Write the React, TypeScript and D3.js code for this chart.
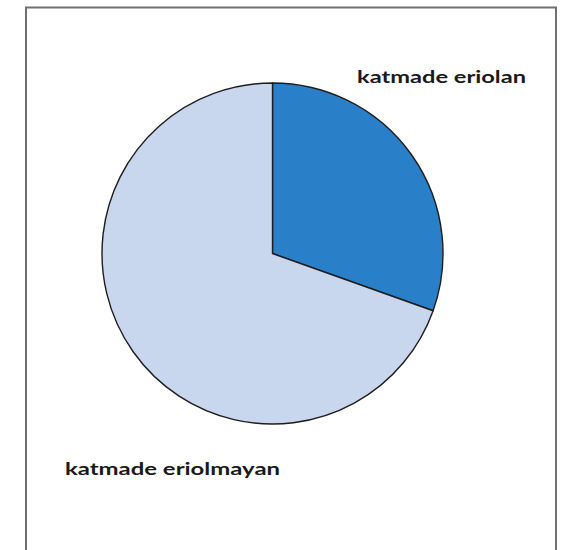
import React from "react";
import * as d3 from "d3";

const categories = ["katmade eriolan", "katmade eriolmayan"];
const values = [30.45, 69.55];
const colors = ["#2a7fc9", "#c8d6ee"];

const W = 572;
const H = 550;
const cx = 272.5;
const cy = 253.5;
const R = 170.5;

const labelPos = [
  { x: 357, y: 83, w: 169 },
  { x: 65, y: 475, w: 215 },
];

export default function App() {
  const pie = d3.pie<number>().sort(null).value((d) => d)(values);
  const arc = d3.arc<d3.PieArcDatum<number>>().innerRadius(0).outerRadius(R);
  return (
    <svg
      width={W}
      height={H}
      style={{ position: "absolute", left: 0, top: 0, background: "#fff" }}
    >
      <rect x={0} y={0} width={W} height={H} fill="#fff" />
      <path
        d={`M26,${H + 5} L26,7.5 L556,7.5 L556,${H + 5}`}
        fill="none"
        stroke="#707070"
        strokeWidth={2}
      />
      <g transform={`translate(${cx},${cy})`}>
        {pie.map((p, i) => (
          <path
            key={categories[i]}
            d={arc(p) || ""}
            fill={colors[i]}
            stroke="#1e1e1e"
            strokeWidth={1.4}
            strokeLinejoin="round"
          />
        ))}
      </g>
      {categories.map((c, i) => (
        <text
          key={c}
          x={labelPos[i].x}
          y={labelPos[i].y}
          textLength={labelPos[i].w}
          lengthAdjust="spacingAndGlyphs"
          fontFamily="Lato, 'DejaVu Sans', sans-serif"
          fontWeight={700}
          fontSize={17}
          fill="#1a1a1a"
        >
          {c}
        </text>
      ))}
    </svg>
  );
}
